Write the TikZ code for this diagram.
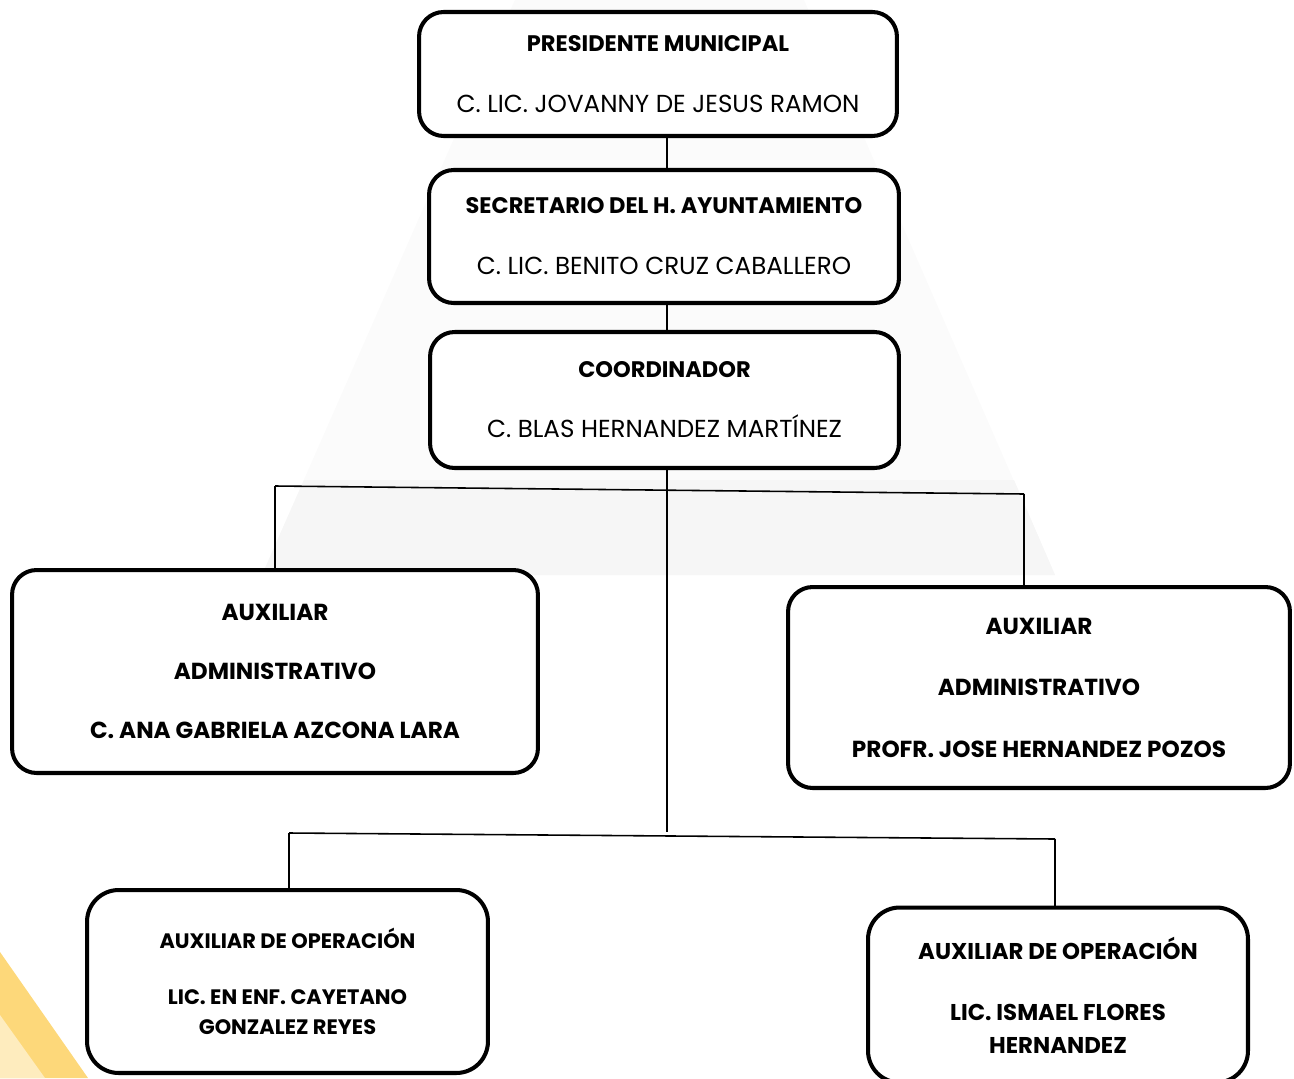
\documentclass[tikz,border=0pt]{standalone}
\usepackage{fontspec}
\setmainfont{Poppins}
\usetikzlibrary{positioning}
\definecolor{sunA}{RGB}{253,216,122}
\definecolor{sunB}{RGB}{254,236,190}
\begin{document}
\begin{tikzpicture}[x=0.02cm, y=-0.02cm,
  box/.style={draw, fill=white, line width=2.3pt, rounded corners=14pt, align=center, inner sep=0pt},
  link/.style={line width=0.9pt}]
\useasboundingbox (0,0) rectangle (1294,1078);
% watermark and corner
\begin{scope}
\clip (0,0) rectangle (1294,1078);
\fill[gray!3] (262,575) -- (660,-330) -- (1055,575) -- cycle;
\fill[gray!7] (262,575) -- (304,480) -- (1014,480) -- (1055,575) -- cycle;
\fill[sunA] (0,952) -- (88,1078) -- (0,1078) -- cycle;
\fill[sunB] (0,1015) -- (45,1078) -- (0,1078) -- cycle;
\end{scope}

\coordinate (hub) at (667,832);

% Mando
\node[box, minimum width=9.56cm, minimum height=2.48cm, font=\fontsize{14}{34.7}\selectfont] (pres) at (658,74)
  {{\fontsize{12.8}{34.7}\selectfont\bfseries PRESIDENTE MUNICIPAL}\\C. LIC. JOVANNY DE JESUS RAMON};
\node[box, minimum width=9.40cm, minimum height=2.66cm, font=\fontsize{14}{34.7}\selectfont] (secr) at (664,236.5)
  {{\fontsize{12.8}{34.7}\selectfont\bfseries SECRETARIO DEL H. AYUNTAMIENTO}\\C. LIC. BENITO CRUZ CABALLERO};
\node[box, minimum width=9.38cm, minimum height=2.72cm, font=\fontsize{14}{34.2}\selectfont] (coord) at (664.5,400)
  {{\fontsize{12.8}{34.2}\selectfont\bfseries COORDINADOR}\\C. BLAS HERNANDEZ MARTÍNEZ};

% Auxiliares
\node[box, minimum width=10.52cm, minimum height=4.06cm, font=\bfseries\fontsize{13.2}{33.6}\selectfont] (admA) at (275,671.5)
  {AUXILIAR\\ADMINISTRATIVO\\C. ANA GABRIELA AZCONA LARA};
\node[box, minimum width=10.04cm, minimum height=4.02cm, font=\bfseries\fontsize{13.2}{35}\selectfont] (admB) at (1039,687.5)
  {AUXILIAR\\ADMINISTRATIVO\\PROFR. JOSE HERNANDEZ POZOS};
\node[box, rounded corners=18pt, minimum width=8.02cm, minimum height=3.66cm, font=\bfseries\fontsize{11.9}{17}\selectfont] (opA) at (287.5,981.5)
  {AUXILIAR DE OPERACIÓN\\[15pt]LIC. EN ENF. CAYETANO\\GONZALEZ REYES};
\node[box, rounded corners=18pt, minimum width=7.6cm, minimum height=3.5cm, font=\bfseries\fontsize{13}{18.8}\selectfont] (opB) at (1058,995)
  {AUXILIAR DE OPERACIÓN\\[16pt]LIC. ISMAEL FLORES\\HERNANDEZ};

% Lineas
\coordinate (barL) at (275,486);
\coordinate (barR) at (1024,494);
\coordinate (lowL) at (289,833);
\coordinate (lowR) at (1055,839);

\draw[link] (hub |- pres.south) -- (hub |- secr.north);
\draw[link] (hub |- secr.south) -- (hub |- coord.north);
\draw[link] (hub |- coord.south) -- (hub);
\draw[link] (barL) -- (barR);
\draw[link] (barL) -- (barL |- admA.north);
\draw[link] (barR) -- (barR |- admB.north);
\draw[link] (lowL) -- (lowR);
\draw[link] (lowL) -- (lowL |- opA.north);
\draw[link] (lowR) -- (lowR |- opB.north);
\end{tikzpicture}
\end{document}
